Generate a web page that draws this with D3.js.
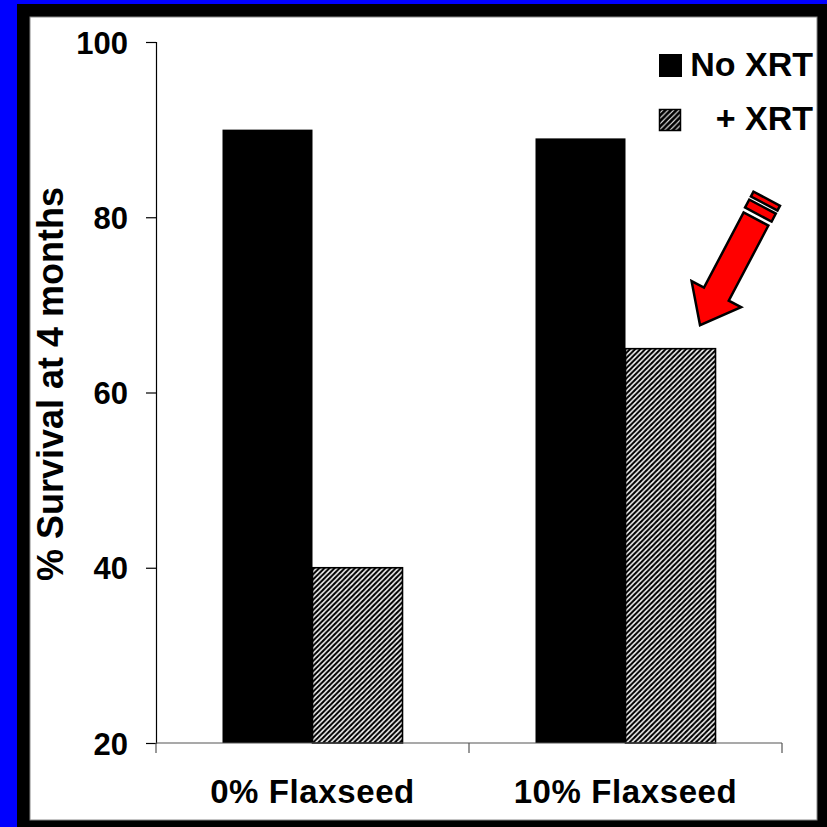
<!DOCTYPE html>
<html>
<head>
<meta charset="utf-8">
<script src="https://cdn.jsdelivr.net/npm/d3@7"></script>
<style>
  html, body { margin: 0; padding: 0; background: #0000ff; }
  svg { display: block; }
  text { font-family: "Liberation Sans", Arial, sans-serif; font-weight: bold; fill: #000; }
</style>
</head>
<body>
<svg id="chart" width="827" height="827"></svg>
<script>
// Survival at 4 months, by diet and radiation treatment
const categories = ["0% Flaxseed", "10% Flaxseed"];
const seriesNames = ["No XRT", "+ XRT"];
const noXRT = [90, 89];
const plusXRT = [40, 65];
const yTicks = [20, 40, 60, 80, 100];

const svg = d3.select("#chart");
const W = 827, H = 827;

// slide frame: blue background, black border, white panel
svg.append("rect").attr("x", 0).attr("y", 0).attr("width", W).attr("height", H).attr("fill", "#0000ff");
svg.append("rect").attr("x", 17).attr("y", 4).attr("width", W - 17).attr("height", H - 4).attr("fill", "#000");
svg.append("rect").attr("x", 30).attr("y", 17).attr("width", 787).attr("height", 803)
  .attr("fill", "#fff").attr("stroke", "#888").attr("stroke-width", 1);

// diagonal hatch fills ("/" direction), tile of size s
const defs = svg.append("defs");
function hatch(id, s, lw) {
  const p = defs.append("pattern").attr("id", id).attr("patternUnits", "userSpaceOnUse")
    .attr("width", s).attr("height", s);
  p.append("rect").attr("width", s).attr("height", s).attr("fill", "#fff");
  p.append("path")
    .attr("d", `M${-s / 2},${s / 2} L${s / 2},${-s / 2} M0,${s} L${s},0 M${s / 2},${s * 1.5} L${s * 1.5},${s / 2}`)
    .attr("stroke", "#000").attr("stroke-width", lw).attr("stroke-linecap", "square");
}
hatch("hatchBar", 5.1, 2.1);
hatch("hatchKey", 5.5, 2.8);

const plot = { left: 156, right: 782, top: 42, bottom: 743 };
const x = d3.scaleBand().domain(categories).range([plot.left, plot.right]);
const y = d3.scaleLinear().domain([20, 100]).range([plot.bottom, plot.top]);
const barW = 90;

// y axis
const yAxis = svg.append("g").attr("transform", `translate(${plot.left},0)`)
  .call(d3.axisLeft(y).tickValues(yTicks).tickSize(10).tickPadding(18).tickFormat(d3.format("d")));
yAxis.select(".domain").attr("stroke", "#000").attr("stroke-width", 1.2);
yAxis.selectAll(".tick line").attr("stroke", "#000").attr("stroke-width", 1.2);
yAxis.selectAll(".tick text").attr("font-size", 31).attr("dy", "0.36em")
  .style("font-family", "'Liberation Sans', Arial, sans-serif").style("font-weight", "bold").attr("fill", "#000");

// bars
const rows = categories.map((c, i) => ({ cat: c, vals: [noXRT[i], plusXRT[i]] }));
const g = svg.append("g");
rows.forEach(r => {
  const cx = x(r.cat) + x.bandwidth() / 2;
  g.append("rect").attr("x", cx - barW).attr("width", barW)
    .attr("y", y(r.vals[0])).attr("height", y(20) - y(r.vals[0]))
    .attr("fill", "#000");
  g.append("rect").attr("x", cx).attr("width", barW)
    .attr("y", y(r.vals[1])).attr("height", y(20) - y(r.vals[1]))
    .attr("fill", "url(#hatchBar)").attr("stroke", "#000").attr("stroke-width", 1.6);
});

// x axis: ticks at category boundaries
const xg = svg.append("g");
xg.append("line").attr("x1", plot.left).attr("x2", plot.right)
  .attr("y1", plot.bottom).attr("y2", plot.bottom).attr("stroke", "#555").attr("stroke-width", 1.2);
const bounds = [plot.left].concat(categories.map(c => x(c) + x.bandwidth()));
bounds.forEach(b => {
  xg.append("line").attr("x1", b).attr("x2", b).attr("y1", plot.bottom).attr("y2", plot.bottom + 10)
    .attr("stroke", "#555").attr("stroke-width", 1.2);
});
categories.forEach(c => {
  xg.append("text").attr("x", x(c) + x.bandwidth() / 2).attr("y", 803)
    .attr("text-anchor", "middle").attr("font-size", 33).attr("letter-spacing", 0.6).text(c);
});

// y axis title
svg.append("text").attr("transform", "translate(63,384) rotate(-90)")
  .attr("text-anchor", "middle").attr("font-size", 36).text("% Survival at 4 months");

// legend
const leg = svg.append("g");
leg.append("rect").attr("x", 659).attr("y", 54).attr("width", 23).attr("height", 23).attr("fill", "#000");
leg.append("text").attr("x", 813).attr("y", 76).attr("text-anchor", "end").attr("font-size", 34).text(seriesNames[0]);
leg.append("rect").attr("x", 659.5).attr("y", 109.5).attr("width", 21).attr("height", 21)
  .attr("fill", "url(#hatchKey)").attr("stroke", "#000").attr("stroke-width", 1.5);
leg.append("text").attr("x", 813).attr("y", 130).attr("text-anchor", "end").attr("font-size", 34).text(seriesNames[1]);

// red arrow pointing at the irradiated 10% flaxseed bar
const arrow = svg.append("g").attr("transform", "translate(756,219) rotate(117.8)");
const arrowStyle = s => s.attr("fill", "#ff0000").attr("stroke", "#000").attr("stroke-width", 2.5).attr("stroke-linejoin", "miter");
arrow.append("polygon")
  .attr("points", [[0, -14], [85, -14], [85, -28], [120, 0], [85, 28], [85, 14], [0, 14]].map(p => p.join(",")).join(" "))
  .call(arrowStyle);
arrow.append("polygon")
  .attr("points", [[-14, -15], [-5, -15], [-5, 15], [-14, 15]].map(p => p.join(",")).join(" "))
  .call(arrowStyle);
arrow.append("polygon")
  .attr("points", [[-23, -15], [-17.5, -15], [-17.5, 15], [-23, 15]].map(p => p.join(",")).join(" "))
  .call(arrowStyle);
</script>
</body>
</html>
